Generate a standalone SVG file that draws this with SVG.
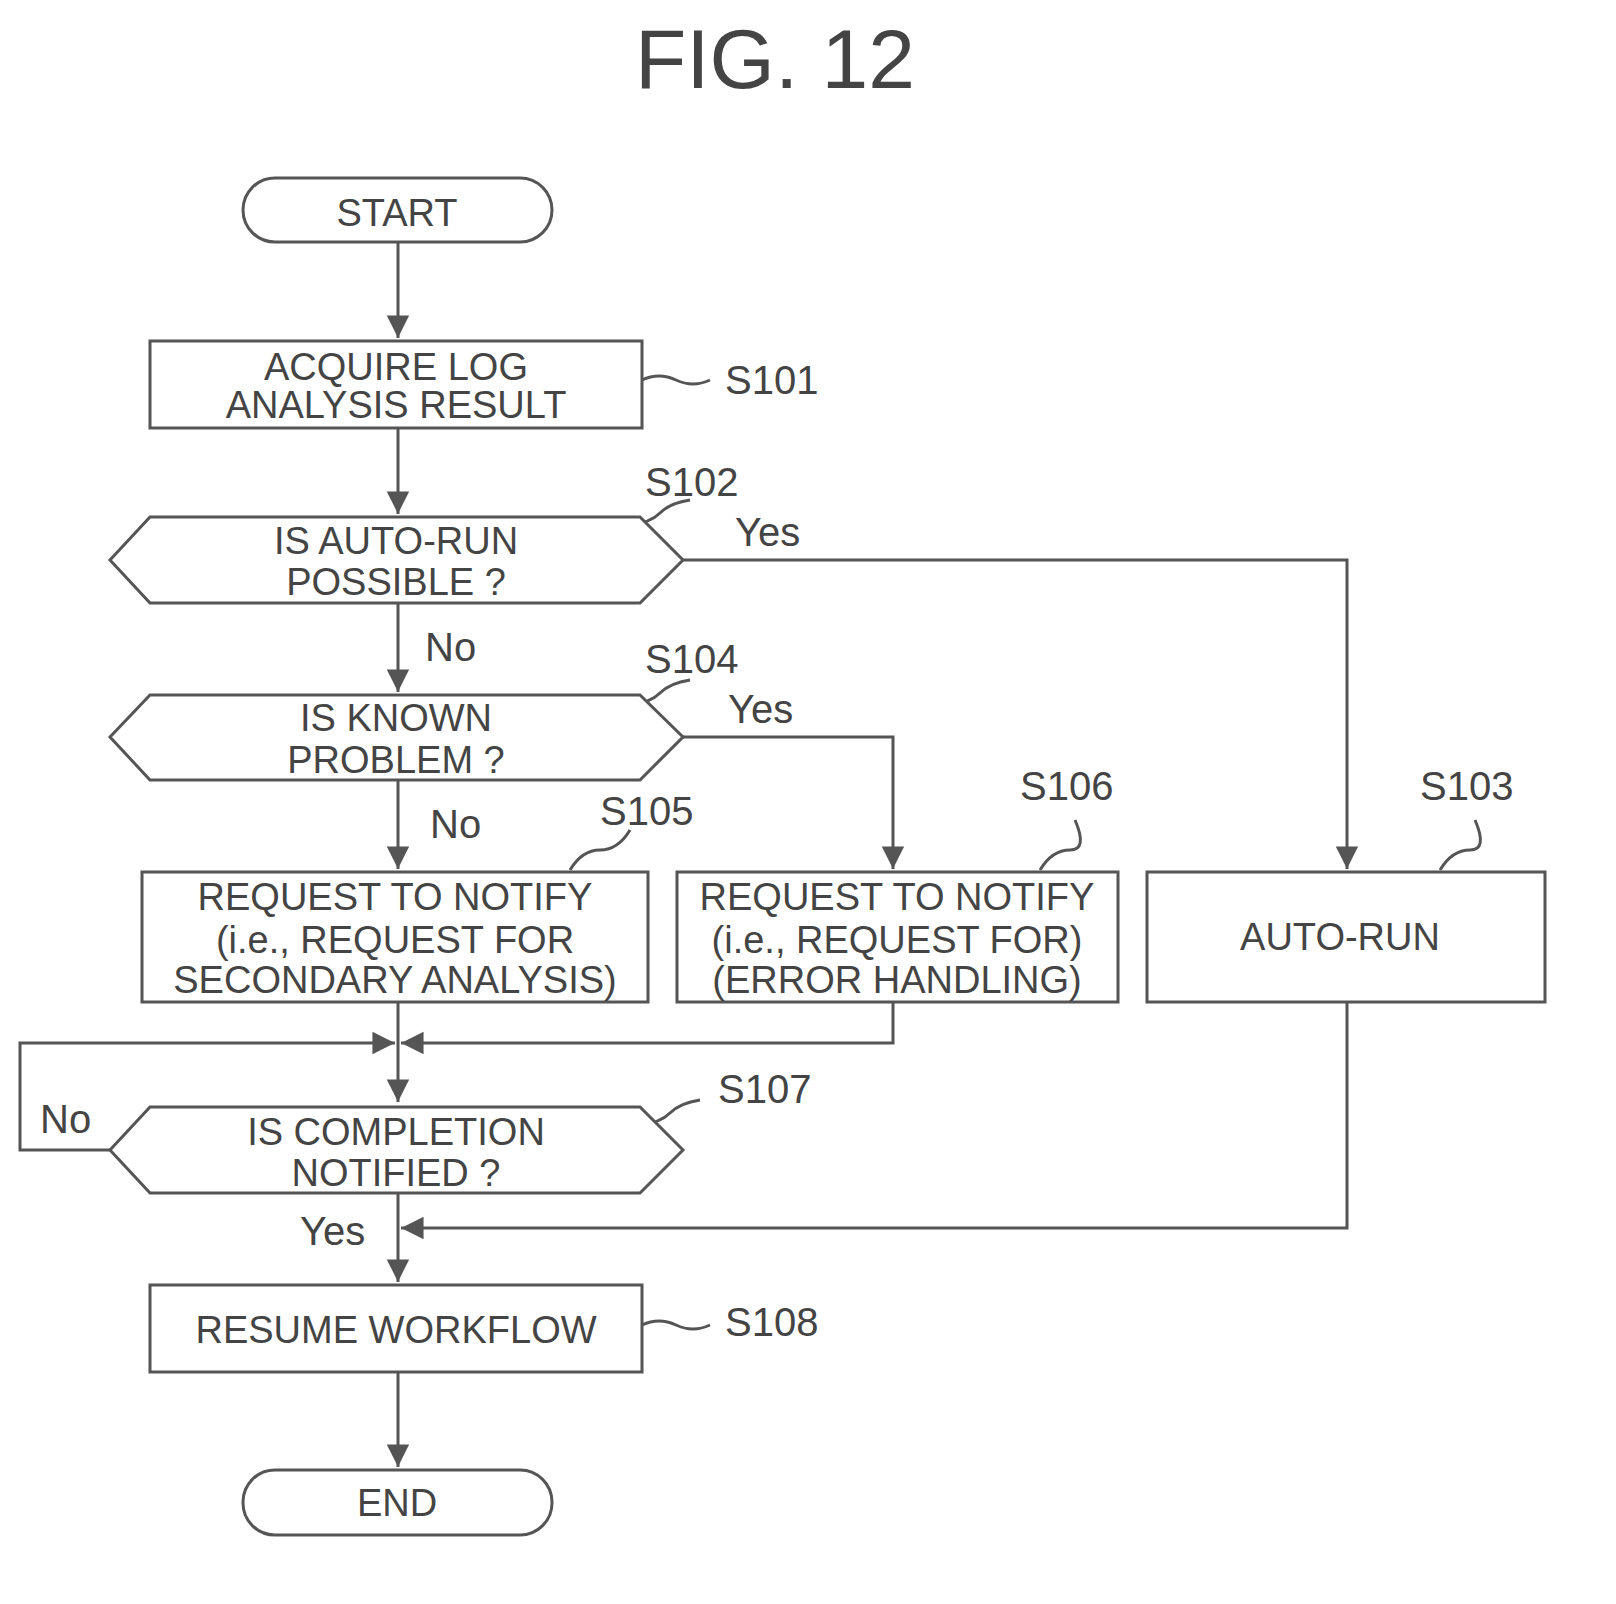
<svg xmlns="http://www.w3.org/2000/svg" width="1616" height="1604" viewBox="0 0 1616 1604">
<style>
.s{fill:#fff;stroke:#555;stroke-width:3}
.l{fill:none;stroke:#555;stroke-width:3}
.t{font-family:"Liberation Sans",Arial,sans-serif;font-size:38px;fill:#444;text-anchor:middle}
.lb{font-family:"Liberation Sans",Arial,sans-serif;font-size:40px;fill:#444}
</style>
<defs><marker id="a" viewBox="0 0 10 10" refX="10" refY="5" markerWidth="8" markerHeight="8" orient="auto" markerUnits="userSpaceOnUse" style="overflow:visible"><path d="M0,0L10,5L0,10Z" fill="#555" transform="scale(2.8) translate(-6.5,-3.2)"/></marker></defs>
<rect width="1616" height="1604" fill="#fff"/>
<text x="775" y="88" class="t" style="font-size:84px">FIG. 12</text>
<g id="connectors">
<path class="l" d="M398,242V338" marker-end="url(#a)"/>
<path class="l" d="M398,428V514" marker-end="url(#a)"/>
<path class="l" d="M683,560H1347V869" marker-end="url(#a)"/>
<path class="l" d="M398,603V692" marker-end="url(#a)"/>
<path class="l" d="M683,737H893V869" marker-end="url(#a)"/>
<path class="l" d="M398,780V869" marker-end="url(#a)"/>
<path class="l" d="M398,1002V1102" marker-end="url(#a)"/>
<path class="l" d="M893,1002V1043H401" marker-end="url(#a)"/>
<path class="l" d="M110,1150H20V1043H395" marker-end="url(#a)"/>
<path class="l" d="M1347,1002V1228H401" marker-end="url(#a)"/>
<path class="l" d="M398,1193V1282" marker-end="url(#a)"/>
<path class="l" d="M398,1372V1467" marker-end="url(#a)"/>
<path class="l" d="M642,380q17,-8 34,0t34,0"/>
<path class="l" d="M630,525q20,-2 30,-12t30,-13"/>
<path class="l" d="M630,705q20,-2 30,-12t30,-13"/>
<path class="l" d="M570,870q12,-20 30,-20t30,-20"/>
<path class="l" d="M1040,870q12,-20 30,-20t5,-30"/>
<path class="l" d="M1440,870q12,-20 30,-20t5,-30"/>
<path class="l" d="M640,1125q20,-2 30,-12t30,-13"/>
<path class="l" d="M642,1325q17,-8 34,0t34,0"/>
</g>
<g id="start"><rect class="s" x="243" y="178" width="309" height="64" rx="32"/><text x="397" y="226" class="t">START</text></g>
<g id="s101"><rect class="s" x="150" y="341" width="492" height="87"/><text x="396" y="380" class="t">ACQUIRE LOG</text><text x="396" y="418" class="t">ANALYSIS RESULT</text><text x="725" y="394" class="lb">S101</text></g>
<g id="s102"><path class="s" d="M110,560L150,517H640L683,560L640,603H150Z"/><text x="396" y="554" class="t">IS AUTO-RUN</text><text x="396" y="595" class="t">POSSIBLE ?</text><text x="645" y="496" class="lb">S102</text><text x="735" y="546" class="lb">Yes</text><text x="425" y="661" class="lb">No</text></g>
<g id="s104"><path class="s" d="M110,737L150,695H640L683,737L640,780H150Z"/><text x="396" y="731" class="t">IS KNOWN</text><text x="396" y="773" class="t">PROBLEM ?</text><text x="645" y="673" class="lb">S104</text><text x="728" y="723" class="lb">Yes</text><text x="430" y="838" class="lb">No</text></g>
<g id="s105"><rect class="s" x="142" y="872" width="506" height="130"/><text x="395" y="910" class="t">REQUEST TO NOTIFY</text><text x="395" y="953" class="t">(i.e., REQUEST FOR</text><text x="395" y="993" class="t">SECONDARY ANALYSIS)</text><text x="600" y="825" class="lb">S105</text></g>
<g id="s106"><rect class="s" x="677" y="872" width="441" height="130"/><text x="897" y="910" class="t">REQUEST TO NOTIFY</text><text x="897" y="953" class="t">(i.e., REQUEST FOR)</text><text x="897" y="993" class="t">(ERROR HANDLING)</text><text x="1020" y="800" class="lb">S106</text></g>
<g id="s103"><rect class="s" x="1147" y="872" width="398" height="130"/><text x="1340" y="950" class="t">AUTO-RUN</text><text x="1420" y="800" class="lb">S103</text></g>
<g id="s107"><path class="s" d="M110,1150L150,1107H640L683,1150L640,1193H150Z"/><text x="396" y="1145" class="t">IS COMPLETION</text><text x="396" y="1186" class="t">NOTIFIED ?</text><text x="718" y="1103" class="lb">S107</text><text x="40" y="1133" class="lb">No</text><text x="300" y="1245" class="lb">Yes</text></g>
<g id="s108"><rect class="s" x="150" y="1285" width="492" height="87"/><text x="396" y="1343" class="t">RESUME WORKFLOW</text><text x="725" y="1336" class="lb">S108</text></g>
<g id="end"><rect class="s" x="243" y="1470" width="309" height="65" rx="32"/><text x="397" y="1516" class="t">END</text></g>
</svg>
